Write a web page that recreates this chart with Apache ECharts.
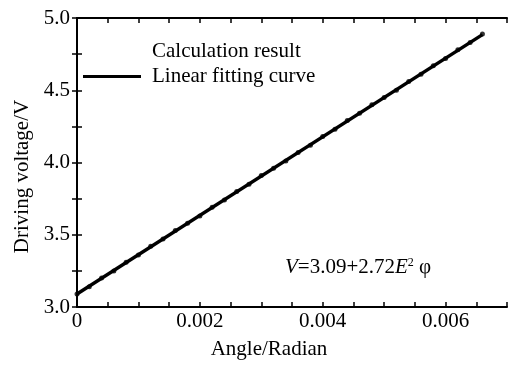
<!DOCTYPE html>
<html>
<head>
<meta charset="utf-8">
<script src="https://cdn.jsdelivr.net/npm/echarts@6/dist/echarts.min.js"></script>
<style>
  html, body { margin: 0; padding: 0; background: #fff; }
  #chart { width: 510px; height: 365px; }
</style>
</head>
<body>
<div id="chart"></div>
<script>
// calculation result points (angle in rad, voltage in V)
var angles = [0, 0.0002, 0.0004, 0.0006, 0.0008, 0.0010, 0.0012, 0.0014, 0.0016, 0.0018,
  0.0020, 0.0022, 0.0024, 0.0026, 0.0028, 0.0030, 0.0032, 0.0034, 0.0036, 0.0038,
  0.0040, 0.0042, 0.0044, 0.0046, 0.0048, 0.0050, 0.0052, 0.0054, 0.0056, 0.0058,
  0.0060, 0.0062, 0.0064, 0.0066];
var voltages = [3.09, 3.14, 3.20, 3.25, 3.31, 3.36, 3.42, 3.47, 3.53, 3.58,
  3.63, 3.69, 3.74, 3.80, 3.85, 3.91, 3.96, 4.01, 4.07, 4.12,
  4.18, 4.23, 4.29, 4.34, 4.40, 4.45, 4.50, 4.56, 4.61, 4.67,
  4.72, 4.78, 4.83, 4.89];
// linear fitting curve end points
var fitX = [0, 0.0066];
var fitY = [3.09, 4.885];

var FONT = "'Liberation Serif', 'Times New Roman', serif";

var chart = echarts.init(document.getElementById("chart"));

var calcData = angles.map(function (a, i) { return [a, voltages[i]]; });
var fitData = fitX.map(function (a, i) { return [a, fitY[i]]; });

function isMult(v, step) {
  var r = v / step;
  return Math.abs(r - Math.round(r)) < 1e-6;
}

var axisLine = { show: true, lineStyle: { color: "#000", width: 2 } };
var tick = { inside: true, length: 5, lineStyle: { color: "#000", width: 1.5 } };

var option = {
  animation: false,
  backgroundColor: "#fff",
  grid: { left: 77, right: -4, top: 18, bottom: 57 },
  legend: {
    orient: "vertical",
    left: 78,
    top: 36,
    itemGap: 4,
    itemWidth: 58,
    itemHeight: 3,
    textStyle: { fontFamily: FONT, fontSize: 21, color: "#000", padding: [0, 0, 0, 6] },
    data: [
      { name: "Calculation result", icon: "rect", itemStyle: { opacity: 0 } },
      { name: "Linear fitting curve", icon: "rect", itemStyle: { color: "#000" } }
    ]
  },
  xAxis: [
    {
      type: "value",
      min: 0,
      max: 0.007,
      interval: 0.0005,
      name: "Angle/Radian",
      nameLocation: "middle",
      nameGap: 32,
      nameTextStyle: { fontFamily: FONT, fontSize: 21, color: "#000", padding: [0, 46, 0, 0] },
      axisLine: axisLine,
      axisTick: tick,
      splitLine: { show: false },
      axisLabel: {
        fontFamily: FONT, fontSize: 21, color: "#000", margin: 4,
        formatter: function (v) {
          if (!isMult(v, 0.002)) return "";
          return v === 0 ? "0" : v.toFixed(3);
        }
      }
    },
    {
      type: "value",
      position: "top",
      min: 0,
      max: 0.007,
      interval: 0.0005,
      axisLine: axisLine,
      axisTick: tick,
      axisLabel: { show: false },
      splitLine: { show: false }
    }
  ],
  yAxis: [
    {
      type: "value",
      min: 3.0,
      max: 5.0,
      interval: 0.25,
      name: "Driving voltage/V",
      nameLocation: "middle",
      nameGap: 42,
      nameTextStyle: { fontFamily: FONT, fontSize: 21, color: "#000", padding: [0, 28, 0, 0] },
      axisLine: axisLine,
      axisTick: tick,
      splitLine: { show: false },
      axisLabel: {
        fontFamily: FONT, fontSize: 21, color: "#000", margin: 7,
        formatter: function (v) {
          return isMult(v, 0.5) ? v.toFixed(1) : "";
        }
      }
    },
    {
      type: "value",
      position: "right",
      min: 3.0,
      max: 5.0,
      interval: 0.25,
      axisLine: axisLine,
      axisTick: tick,
      axisLabel: { show: false },
      splitLine: { show: false }
    }
  ],
  graphic: [
    {
      type: "text",
      left: 285,
      top: 257,
      style: {
        text: "{i|V}=3.09+2.72{i|E}{s|2} φ",
        fill: "#000",
        font: "21px " + FONT,
        rich: {
          i: { fontFamily: FONT, fontSize: 21, fontStyle: "italic", fill: "#000" },
          s: { fontFamily: FONT, fontSize: 12, fill: "#000", verticalAlign: "top", padding: [0, 0, 8, 0] }
        }
      }
    }
  ],
  series: [
    {
      name: "Linear fitting curve",
      type: "line",
      data: fitData,
      symbol: "none",
      lineStyle: { color: "#000", width: 3.5 },
      itemStyle: { color: "#000" },
      z: 2
    },
    {
      name: "Calculation result",
      type: "scatter",
      data: calcData,
      symbol: "circle",
      symbolSize: 5,
      itemStyle: { color: "#000" },
      z: 3
    }
  ]
};

chart.setOption(option);
</script>
</body>
</html>
